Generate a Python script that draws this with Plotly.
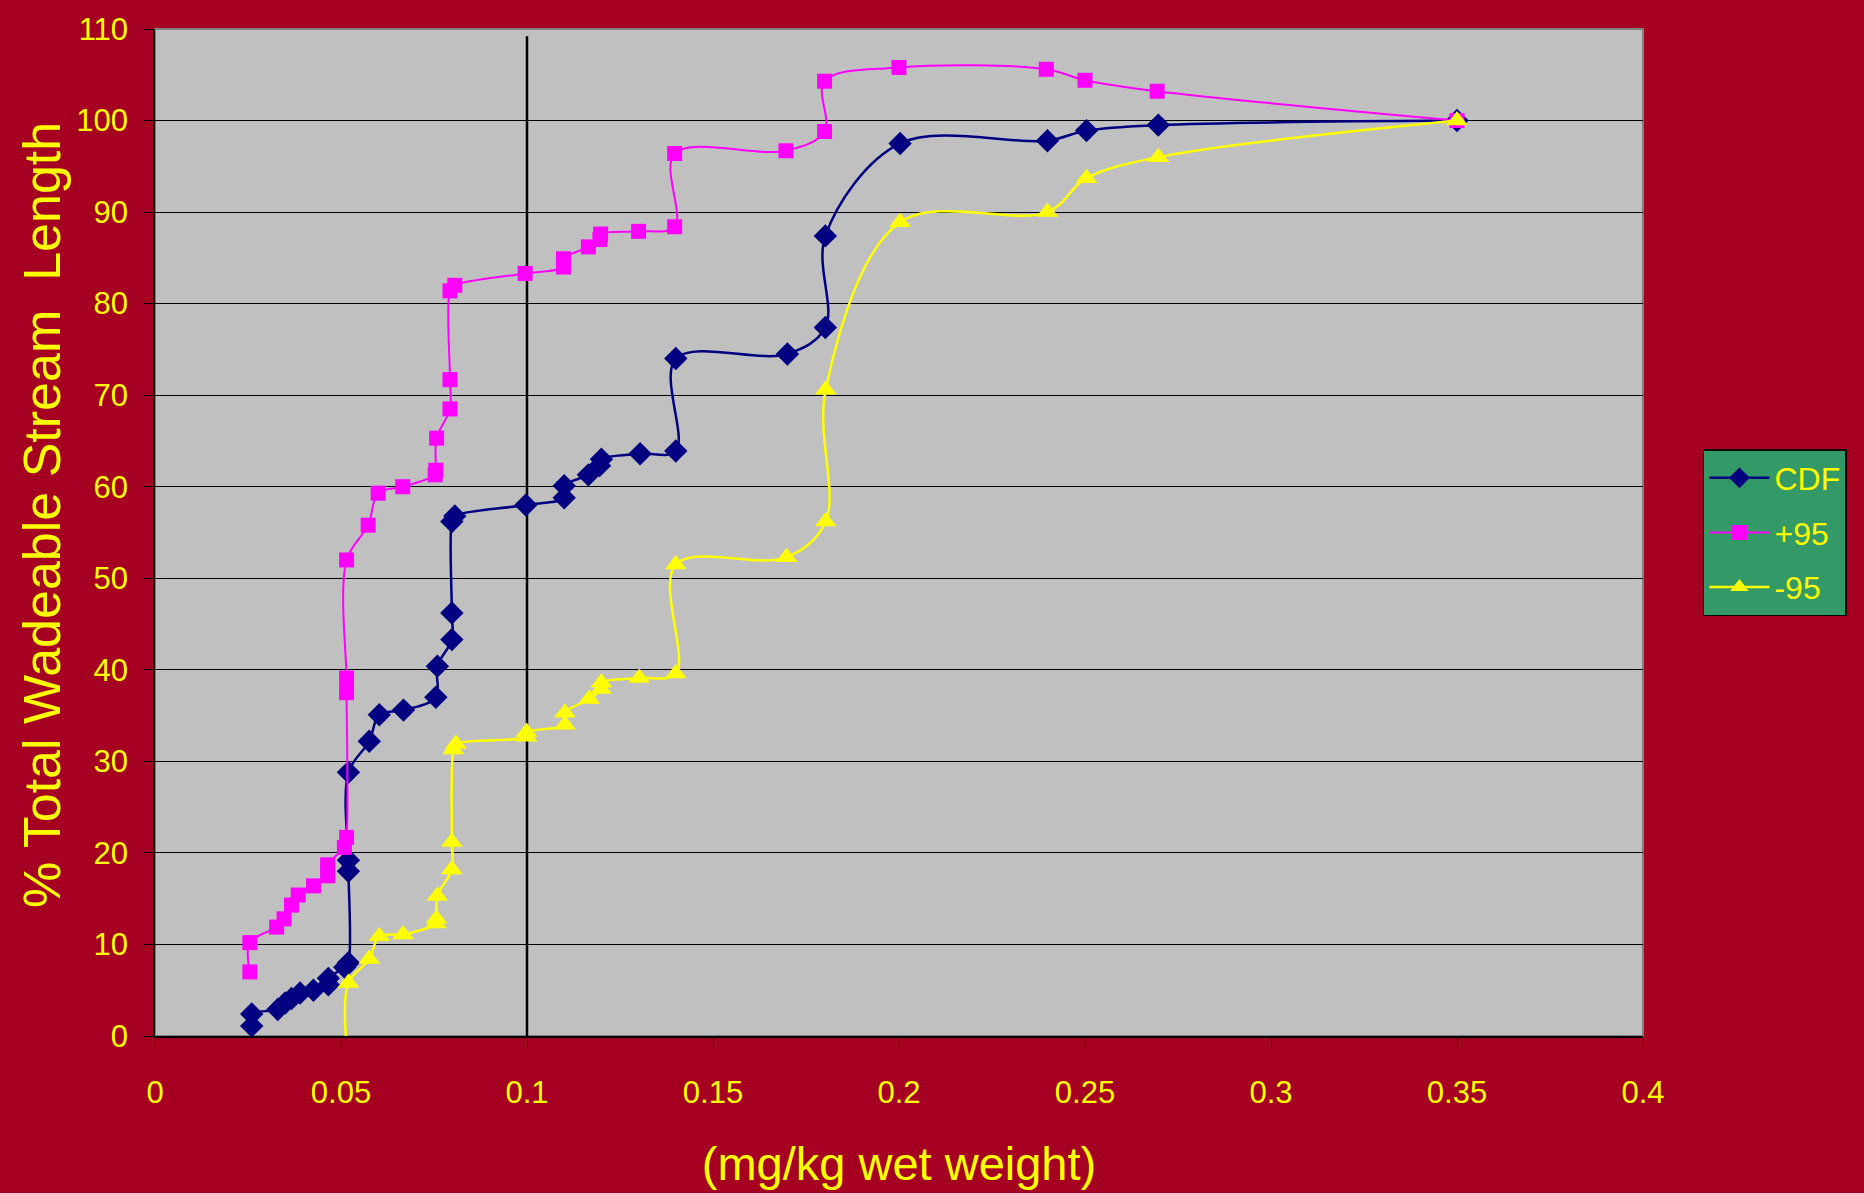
import plotly.graph_objects as go

# ---------------- data ----------------
cdf_x = [0.026, 0.026, 0.033, 0.035, 0.0367, 0.039, 0.0426, 0.0466, 0.0466, 0.051, 0.052,
         0.052, 0.052, 0.052, 0.0576, 0.0603, 0.0668, 0.0755, 0.0759, 0.0798, 0.0798,
         0.0798, 0.0806, 0.0997, 0.110, 0.110, 0.1165, 0.1195, 0.120, 0.1304, 0.140,
         0.140, 0.170, 0.1802, 0.1802, 0.2003, 0.2399, 0.2504, 0.2697, 0.35]
cdf_y = [1.1, 2.4, 2.9, 3.6, 4.1, 4.7, 5.0, 5.6, 6.3, 7.5, 8.0,
         18.0, 19.2, 28.8, 32.2, 35.1, 35.6, 37.0, 40.4, 43.3, 46.2,
         56.2, 56.8, 58.0, 58.8, 60.1, 61.3, 62.3, 63.0, 63.6, 63.9,
         74.0, 74.5, 77.4, 87.4, 97.5, 97.8, 98.9, 99.5, 100.0]

up_x = [0.0255, 0.0255, 0.0327, 0.0347, 0.0367, 0.0385, 0.0426, 0.0464, 0.0464, 0.0509,
        0.0515, 0.0515, 0.0515, 0.0515, 0.0573, 0.060, 0.0666, 0.0753, 0.0755, 0.0757,
        0.0793, 0.0793, 0.0793, 0.0806, 0.0995, 0.1098, 0.1098, 0.1165, 0.1196, 0.1198,
        0.130, 0.1397, 0.1397, 0.1696, 0.180, 0.180, 0.200, 0.2396, 0.250, 0.2694, 0.35]
up_y = [7.0, 10.2, 11.9, 12.8, 14.3, 15.4, 16.4, 17.5, 18.7, 20.6,
        21.7, 37.5, 39.1, 52.0, 55.8, 59.3, 60.0, 61.3, 61.8, 65.3,
        68.5, 71.7, 81.4, 82.0, 83.3, 84.0, 84.9, 86.2, 87.0, 87.6,
        87.9, 88.4, 96.4, 96.7, 98.8, 104.3, 105.8, 105.6, 104.4, 103.2, 100.0]

lo_x = [0.0515, 0.052, 0.0576, 0.0603, 0.0667, 0.0755, 0.0757, 0.0759, 0.0798, 0.0798,
        0.0802, 0.0809, 0.0999, 0.0999, 0.1102, 0.1102, 0.1167, 0.1199, 0.120, 0.1302,
        0.140, 0.140, 0.1698, 0.1803, 0.1803, 0.2003, 0.2399, 0.2504, 0.2697, 0.35]
lo_y = [-1.0, 5.8, 8.4, 10.9, 11.1, 12.3, 12.8, 15.3, 18.2, 21.2,
        31.3, 31.9, 32.7, 33.2, 34.0, 35.3, 36.8, 37.9, 38.6, 39.1,
        39.6, 51.5, 52.3, 56.2, 70.6, 88.9, 90.0, 93.7, 96.0, 100.0]

series_names = ["CDF", "+95", "-95"]
x_tick_vals = [0, 0.05, 0.1, 0.15, 0.2, 0.25, 0.3, 0.35, 0.4]
x_tick_text = ["0", "0.05", "0.1", "0.15", "0.2", "0.25", "0.3", "0.35", "0.4"]
y_tick_vals = [0, 10, 20, 30, 40, 50, 60, 70, 80, 90, 100, 110]
ref_line_x = 0.1
ref_line_top = 109.2
x_title = "(mg/kg wet weight)"
y_title = "% Total Wadeable Stream  Length"

# ---------------- styling ----------------
FONT = "Arial, Liberation Sans, sans-serif"
YEL = "#FFFF00"
BG = "#A50021"
PLOT_BG = "#C0C0C0"

fig = go.Figure()
fig.add_trace(go.Scatter(x=cdf_x, y=cdf_y, name=series_names[0], mode="lines+markers",
                         legendgroup="a",
                         line=dict(color="#000080", width=2.5, shape="spline", smoothing=1),
                         marker=dict(symbol="diamond", size=18, color="#000080")))
fig.add_trace(go.Scatter(x=up_x, y=up_y, name=series_names[1], mode="lines+markers",
                         legendgroup="b",
                         line=dict(color="#FF00FF", width=2, shape="spline", smoothing=1),
                         marker=dict(symbol="square", size=15, color="#FF00FF")))
fig.add_trace(go.Scatter(x=lo_x, y=lo_y, name=series_names[2], mode="lines+markers",
                         legendgroup="c",
                         line=dict(color=YEL, width=2.5, shape="spline", smoothing=1),
                         marker=dict(symbol="triangle-up", size=19, color=YEL)))

# plot border and reference vertical line
fig.add_shape(type="rect", xref="paper", yref="paper", x0=0, x1=1, y0=0, y1=1,
              line=dict(color="#808080", width=2), layer="below")
fig.add_shape(type="line", x0=ref_line_x, x1=ref_line_x, y0=0, y1=ref_line_top,
              line=dict(color="#000000", width=2.5), layer="below")

# y-axis title as a rotated annotation for exact placement
fig.add_annotation(text=y_title, xref="paper", yref="paper", x=-0.0755, y=0.517,
                   xanchor="center", yanchor="middle", textangle=-90, showarrow=False,
                   font=dict(family=FONT, color=YEL, size=52))

fig.update_layout(
    width=1864, height=1193,
    margin=dict(l=155, r=221, t=19, b=155),
    paper_bgcolor=BG, plot_bgcolor=PLOT_BG,
    font=dict(family=FONT, color=YEL, size=30),
    showlegend=True,
    legend=dict(x=1.0403, xanchor="left", y=0.5, yanchor="middle",
                bgcolor="#339966", bordercolor="#000000", borderwidth=1.5,
                font=dict(family=FONT, color=YEL, size=32),
                traceorder="grouped", tracegroupgap=10, itemwidth=60),
    xaxis=dict(range=[0, 0.4], tickvals=x_tick_vals, ticktext=x_tick_text,
               showgrid=False, zeroline=False,
               showline=True, linecolor="#000000", linewidth=1.5,
               ticks="outside", ticklen=10, tickcolor="#000000", tickwidth=1,
               ticklabelstandoff=18,
               tickfont=dict(family=FONT, color=YEL, size=31),
               title=dict(text=x_title, standoff=38,
                          font=dict(family=FONT, color=YEL, size=47))),
    yaxis=dict(range=[0, 110], tickvals=y_tick_vals,
               showgrid=True, gridcolor="#000000", gridwidth=1,
               zeroline=False,
               showline=True, linecolor="#000000", linewidth=1.5,
               ticks="outside", ticklen=9, tickcolor="#000000", tickwidth=1,
               ticklabelstandoff=10,
               tickfont=dict(family=FONT, color=YEL, size=31)),
)

fig.write_html("out.html", config={"displayModeBar": False},
               post_script="document.body.style.margin='0';")
